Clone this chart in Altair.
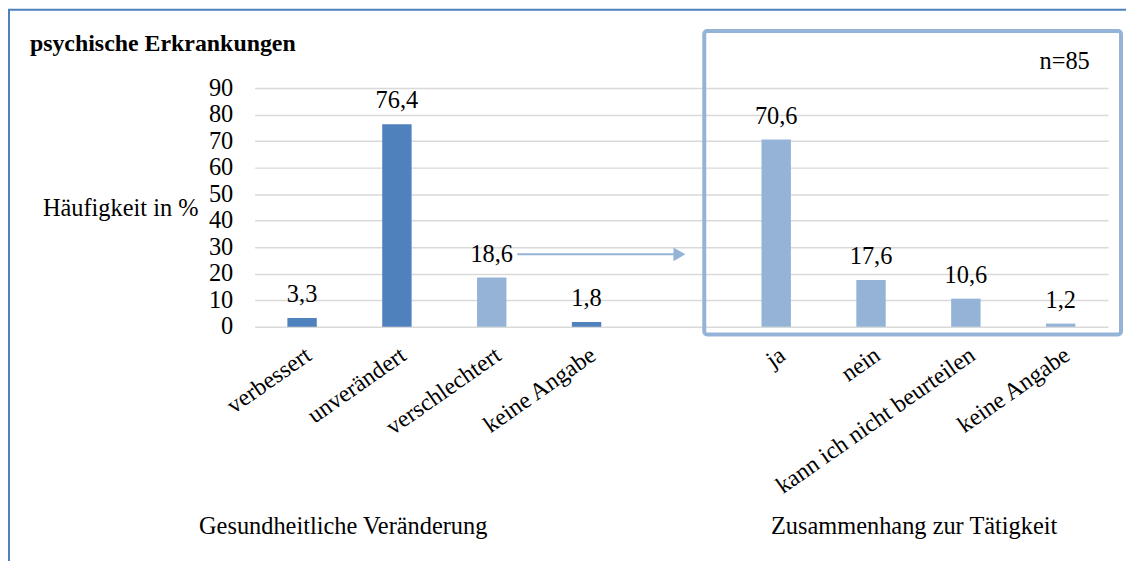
import altair as alt
import pandas as pd

# ---------------- data ----------------
left_categories = ["verbessert", "unverändert", "verschlechtert", "keine Angabe"]
left_values = [3.3, 76.4, 18.6, 1.8]
left_colors = ["#4f81bd", "#4f81bd", "#95b3d7", "#4f81bd"]

right_categories = ["ja", "nein", "kann ich nicht beurteilen", "keine Angabe"]
right_values = [70.6, 17.6, 10.6, 1.2]
right_colors = ["#95b3d7", "#95b3d7", "#95b3d7", "#95b3d7"]

y_ticks = [0, 10, 20, 30, 40, 50, 60, 70, 80, 90]

title_text = "psychische Erkrankungen"
y_title = "Häufigkeit in %"
n_text = "n=85"
left_group = "Gesundheitliche Veränderung"
right_group = "Zusammenhang zur Tätigkeit"

# ---------------- build table ----------------
rows = []
for i, (c, v, col) in enumerate(zip(left_categories, left_values, left_colors)):
    rows.append(dict(key=f"L{i}", label=c, value=v, color=col,
                     text=f"{v:.1f}".replace(".", ",")))
for i, (c, v, col) in enumerate(zip(right_categories, right_values, right_colors)):
    rows.append(dict(key=f"R{i}", label=c, value=v, color=col,
                     text=f"{v:.1f}".replace(".", ",")))
df = pd.DataFrame(rows)

keys = [f"L{i}" for i in range(len(left_categories))] + ["GAP"] + \
       [f"R{i}" for i in range(len(right_categories))]

label_expr = ""
for r in rows:
    label_expr += f"datum.value == '{r['key']}' ? '{r['label']}' : "
label_expr += "''"

FONT = "Liberation Serif"
FS = 24.5

# plot area in page coordinates: left 256, top 87
PL, PT = 256, 87.3

x_enc = alt.X(
    "key:N", sort=keys,
    scale=alt.Scale(domain=keys, paddingInner=0.69, paddingOuter=0.345),
    axis=alt.Axis(title=None, labelExpr=label_expr, labelAngle=-35,
                  labelAlign="right", labelBaseline="top", labelPadding=16,
                  labelFontSize=24,
                  ticks=False, domain=False, labelOverlap=False, labelLimit=500,
                  grid=False),
)
y_enc = alt.Y(
    "value:Q",
    scale=alt.Scale(domain=[0, 90], nice=False, zero=True),
    axis=alt.Axis(values=y_ticks, title=y_title, titleAngle=0, titleAlign="right",
                  titleBaseline="alphabetic", titleX=199 - PL, titleY=215 - PT,
                  labelPadding=22, ticks=False, domain=False, labelOverlap=False,
                  grid=True, gridColor="#d9d9d9", gridWidth=1.5),
)

bars = alt.Chart(df).mark_bar().encode(
    x=x_enc, y=y_enc, color=alt.Color("color:N", scale=None)
)
value_labels = alt.Chart(df).mark_text(
    font=FONT, fontSize=FS, baseline="alphabetic", dy=-16, color="black"
).encode(x=x_enc, y=y_enc, text="text:N")

one = pd.DataFrame({"k": [0]})

outer_border = alt.Chart(one).mark_rect(
    fill="white", fillOpacity=0, stroke="#4f81bd", strokeWidth=2
).encode(x=alt.value(9 - PL), x2=alt.value(1400), y=alt.value(8.5 - PT), y2=alt.value(700))

inner_box = alt.Chart(one).mark_rect(
    fill="white", fillOpacity=0, stroke="#95b3d7", strokeWidth=4, cornerRadius=3
).encode(x=alt.value(708 - PL), x2=alt.value(1127 - PL),
         y=alt.value(30 - PT), y2=alt.value(335 - PT))

arrow_line = alt.Chart(one).mark_rule(color="#95b3d7", strokeWidth=2).encode(
    x=alt.value(520 - PL), x2=alt.value(678 - PL), y=alt.value(254.5 - PT)
)
arrow_head = alt.Chart(one).mark_point(
    shape="triangle-right", filled=True, size=190, color="#95b3d7", opacity=1
).encode(x=alt.value(683 - PL), y=alt.value(254.5 - PT))


def txt(s, x, y, align="left", weight="normal", size=FS):
    return alt.Chart(one).mark_text(
        text=s, font=FONT, fontSize=size, fontWeight=weight, align=align,
        baseline="alphabetic", color="black"
    ).encode(x=alt.value(x - PL), y=alt.value(y - PT))


title_mark = txt(title_text, 30, 50, weight="bold", size=24)
n_mark = txt(n_text, 1045, 68)
left_group_mark = txt(left_group, 345, 536, align="center")
right_group_mark = txt(right_group, 919, 536, align="center")

chart = alt.layer(
    outer_border, bars, value_labels, inner_box, arrow_line, arrow_head,
    title_mark, n_mark, left_group_mark, right_group_mark
).properties(
    width=858, height=240,
    autosize=alt.AutoSizeParams(type="none"),
    padding={"left": 248, "top": 79, "right": 18, "bottom": 234},
    background="white",
).configure(
    font=FONT
).configure_axis(
    labelFont=FONT, labelFontSize=FS, labelColor="black",
    titleFont=FONT, titleFontSize=FS, titleFontWeight="normal", titleColor="black",
).configure_view(stroke=None)

chart.save("out.html", embed_options={"renderer": "svg", "actions": False})
